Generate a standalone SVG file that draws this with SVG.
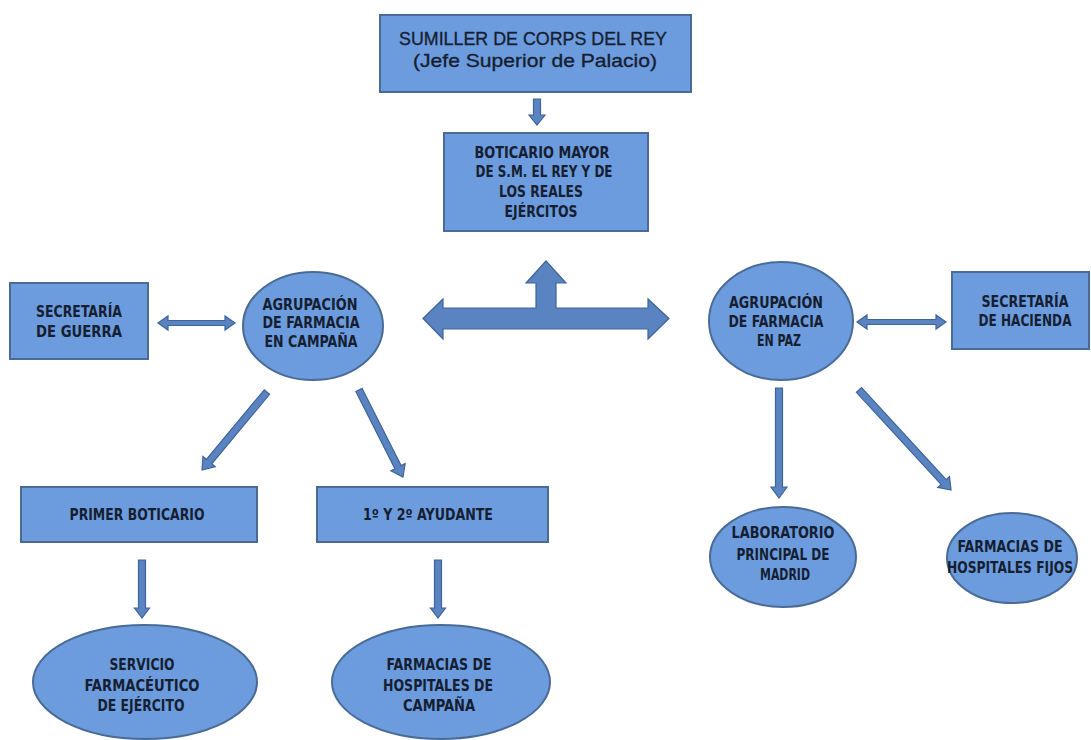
<svg xmlns="http://www.w3.org/2000/svg" width="1091" height="740" viewBox="0 0 1091 740">
<style>
.box{fill:#6c9cdd;stroke:#4a6b96;stroke-width:2}
.ell{fill:#6c9cdd;stroke:#4a6b96;stroke-width:2}
.arr{fill:#5a84c1;stroke:#3f6499;stroke-width:1.2;stroke-linejoin:miter}
.t{font-family:"Liberation Sans Narrow","DejaVu Sans Condensed","Liberation Sans",sans-serif;font-weight:bold;font-size:15px;fill:#161e32;text-anchor:middle}
.h{font-family:"Liberation Sans","DejaVu Sans",sans-serif;font-size:19px;fill:#161e32;stroke:#161e32;stroke-width:0.35;text-anchor:middle}
</style>
<rect width="1091" height="740" fill="#ffffff"/>
<g id="connectors">
<g transform="translate(537,99) rotate(90)"><polygon class="arr" points="0,-3.5 16,-3.5 16,-8 26,0 16,8 16,3.5 0,3.5"/></g>
<polygon class="arr" points="423,318.5 443,299 443,308 536,308 536,283 526,283 546,261 566,283 556,283 556,308 648,308 648,299 669,318.5 648,339 648,329 443,329 443,339"/>
<polygon class="arr" points="158,323 168,316 168,320.5 225,320.5 225,316 235,323 225,330 225,325.5 168,325.5 168,330"/>
<polygon class="arr" points="857,322 867,315 867,319.5 936,319.5 936,315 946,322 936,329 936,324.5 867,324.5 867,329"/>
<g transform="translate(267,392) rotate(129.8)"><polygon class="arr" points="0,-3.5 90.5,-3.5 90.5,-8 101.5,0 90.5,8 90.5,3.5 0,3.5"/></g>
<g transform="translate(359,390) rotate(63.2)"><polygon class="arr" points="0,-3.5 86.5,-3.5 86.5,-8 97.5,0 86.5,8 86.5,3.5 0,3.5"/></g>
<g transform="translate(142,560) rotate(90)"><polygon class="arr" points="0,-3.5 48,-3.5 48,-7.5 58,0 48,7.5 48,3.5 0,3.5"/></g>
<g transform="translate(438,560) rotate(90)"><polygon class="arr" points="0,-3.5 48,-3.5 48,-7.5 58,0 48,7.5 48,3.5 0,3.5"/></g>
<g transform="translate(779,388) rotate(90)"><polygon class="arr" points="0,-3.5 99,-3.5 99,-8 110,0 99,8 99,3.5 0,3.5"/></g>
<g transform="translate(859,390) rotate(47.4)"><polygon class="arr" points="0,-3.5 125,-3.5 125,-8 136,0 125,8 125,3.5 0,3.5"/></g>
</g>
<g id="sumiller">
<rect class="box" x="380" y="15" width="311" height="77"/>
<text class="h" x="533" y="45" textLength="268" lengthAdjust="spacingAndGlyphs">SUMILLER DE CORPS DEL REY</text>
<text class="h" x="535" y="67" textLength="244" lengthAdjust="spacingAndGlyphs">(Jefe Superior de Palacio)</text>
</g>
<g id="boticario">
<rect class="box" x="444" y="133" width="204" height="98"/>
<text class="t" x="542" y="158" textLength="135" lengthAdjust="spacingAndGlyphs">BOTICARIO MAYOR</text>
<text class="t" x="544" y="177" textLength="137" lengthAdjust="spacingAndGlyphs">DE  S.M. EL REY Y DE</text>
<text class="t" x="541" y="197" textLength="84" lengthAdjust="spacingAndGlyphs">LOS REALES</text>
<text class="t" x="541" y="217" textLength="73" lengthAdjust="spacingAndGlyphs">EJÉRCITOS</text>
</g>
<g id="sec-guerra">
<rect class="box" x="10" y="283" width="138" height="76"/>
<text class="t" x="79" y="317" textLength="86" lengthAdjust="spacingAndGlyphs">SECRETARÍA</text>
<text class="t" x="79" y="337" textLength="86" lengthAdjust="spacingAndGlyphs">DE  GUERRA</text>
</g>
<g id="agr-campana">
<ellipse class="ell" cx="313" cy="326" rx="70" ry="54"/>
<text class="t" x="310" y="310" textLength="95" lengthAdjust="spacingAndGlyphs">AGRUPACIÓN</text>
<text class="t" x="311" y="328" textLength="97" lengthAdjust="spacingAndGlyphs">DE FARMACIA</text>
<text class="t" x="311" y="347" textLength="93" lengthAdjust="spacingAndGlyphs">EN CAMPAÑA</text>
</g>
<g id="agr-paz">
<ellipse class="ell" cx="781" cy="321" rx="72" ry="59"/>
<text class="t" x="776" y="308" textLength="94" lengthAdjust="spacingAndGlyphs">AGRUPACIÓN</text>
<text class="t" x="776" y="327" textLength="95" lengthAdjust="spacingAndGlyphs">DE FARMACIA</text>
<text class="t" x="779" y="346" textLength="44" lengthAdjust="spacingAndGlyphs">EN PAZ</text>
</g>
<g id="sec-hacienda">
<rect class="box" x="952" y="272" width="137" height="77"/>
<text class="t" x="1025" y="307" textLength="87" lengthAdjust="spacingAndGlyphs">SECRETARÍA</text>
<text class="t" x="1025" y="326" textLength="93" lengthAdjust="spacingAndGlyphs">DE HACIENDA</text>
</g>
<g id="primer-boticario">
<rect class="box" x="21" y="487" width="236" height="55"/>
<text class="t" x="137" y="520" textLength="135" lengthAdjust="spacingAndGlyphs">PRIMER BOTICARIO</text>
</g>
<g id="ayudante">
<rect class="box" x="317" y="487" width="231" height="55"/>
<text class="t" x="428" y="520" textLength="130" lengthAdjust="spacingAndGlyphs">1º Y 2º AYUDANTE</text>
</g>
<g id="servicio">
<ellipse class="ell" cx="145" cy="682" rx="112" ry="57"/>
<text class="t" x="142" y="670" textLength="65" lengthAdjust="spacingAndGlyphs">SERVICIO</text>
<text class="t" x="142" y="691" textLength="115" lengthAdjust="spacingAndGlyphs">FARMACÉUTICO</text>
<text class="t" x="141" y="711" textLength="87" lengthAdjust="spacingAndGlyphs">DE EJÉRCITO</text>
</g>
<g id="farm-campana">
<ellipse class="ell" cx="441" cy="682" rx="109" ry="57"/>
<text class="t" x="439" y="670" textLength="105" lengthAdjust="spacingAndGlyphs">FARMACIAS DE</text>
<text class="t" x="438" y="691" textLength="110" lengthAdjust="spacingAndGlyphs">HOSPITALES DE</text>
<text class="t" x="439" y="711" textLength="72" lengthAdjust="spacingAndGlyphs">CAMPAÑA</text>
</g>
<g id="laboratorio">
<ellipse class="ell" cx="783" cy="557" rx="73" ry="50"/>
<text class="t" x="783" y="538" textLength="103" lengthAdjust="spacingAndGlyphs">LABORATORIO</text>
<text class="t" x="783" y="560" textLength="93" lengthAdjust="spacingAndGlyphs">PRINCIPAL DE</text>
<text class="t" x="785" y="580" textLength="50" lengthAdjust="spacingAndGlyphs">MADRID</text>
</g>
<g id="farm-fijos">
<ellipse class="ell" cx="1012" cy="558" rx="65" ry="45"/>
<text class="t" x="1010" y="552" textLength="105" lengthAdjust="spacingAndGlyphs">FARMACIAS DE</text>
<text class="t" x="1010" y="573" textLength="126" lengthAdjust="spacingAndGlyphs">HOSPITALES FIJOS</text>
</g>
</svg>
